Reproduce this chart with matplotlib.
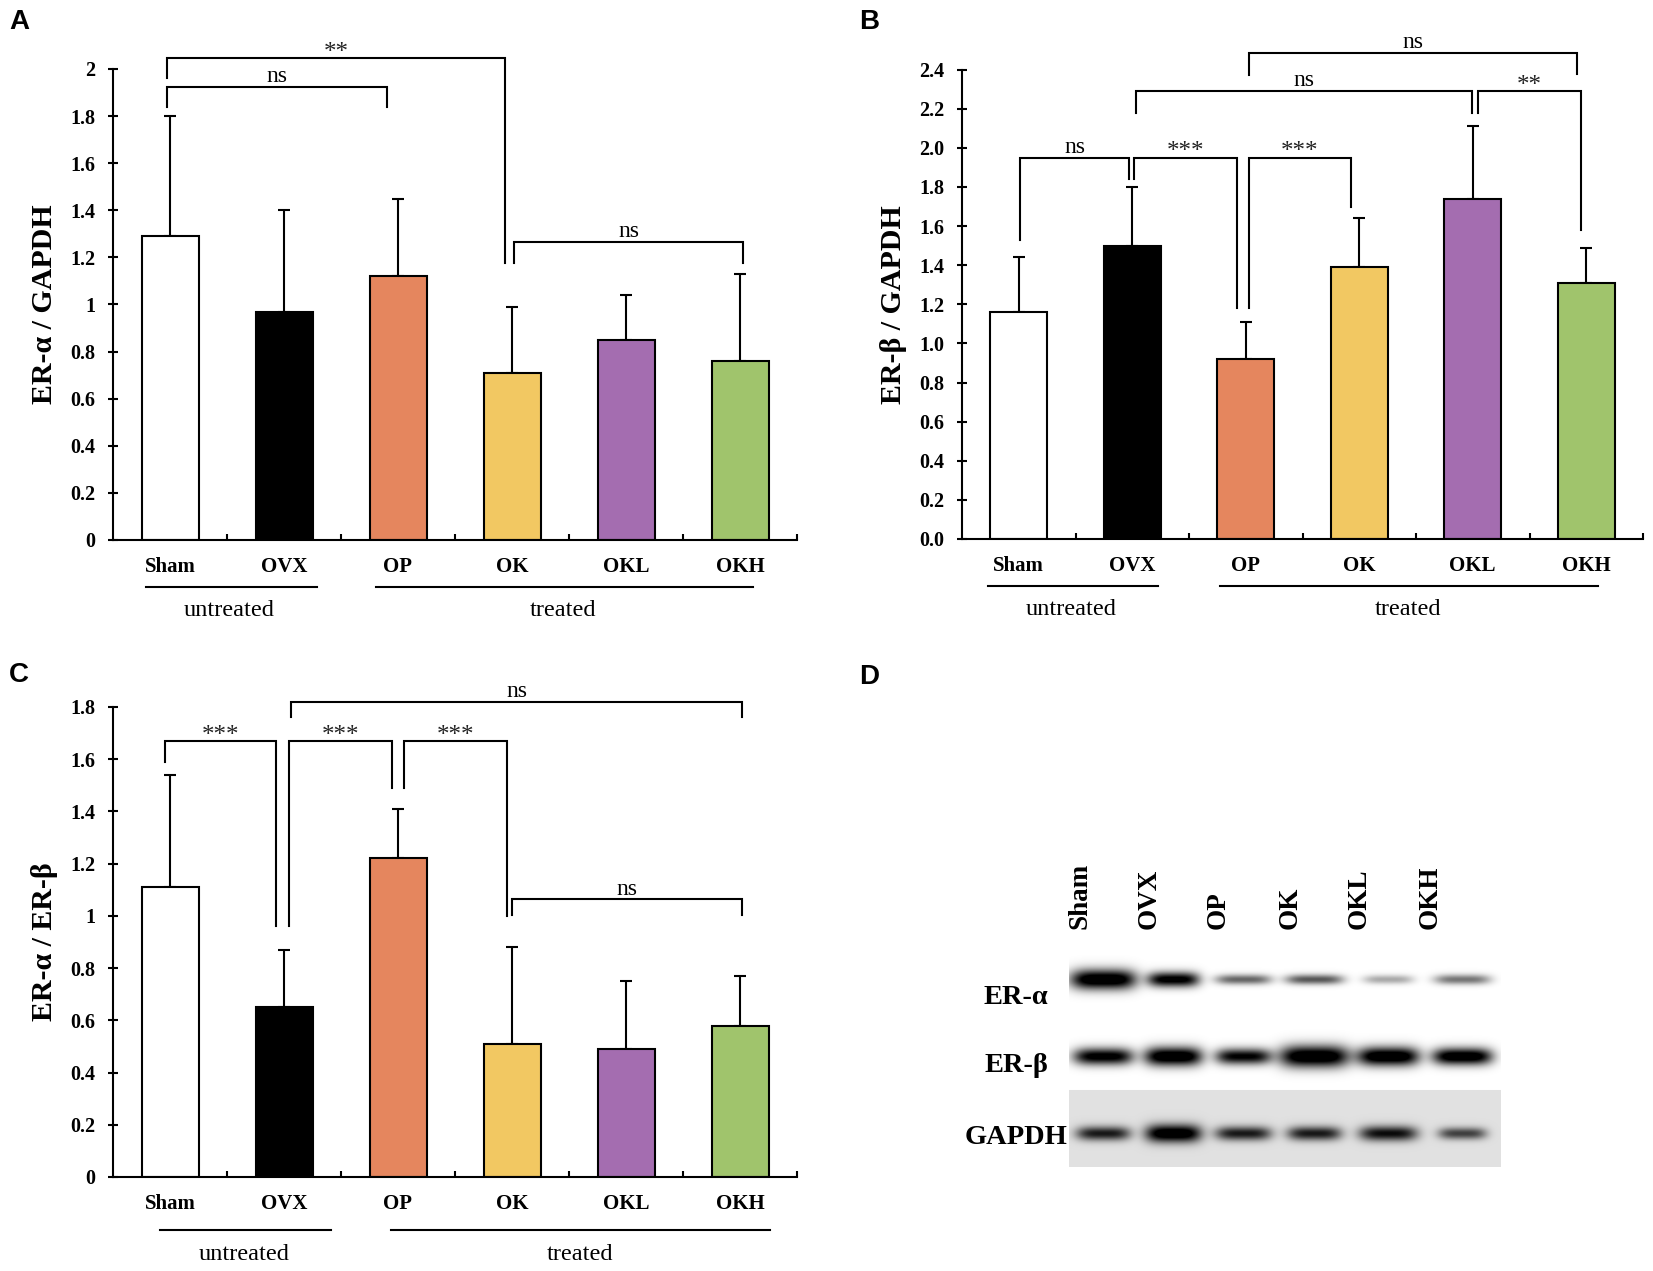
import numpy as np
import matplotlib
matplotlib.use('Agg')
import matplotlib.pyplot as plt
import matplotlib.transforms as mtransforms

# ---------------- data ----------------
groups = ['Sham', 'OVX', 'OP', 'OK', 'OKL', 'OKH']
bar_colors = ['#FFFFFF', '#000000', '#E5865E', '#F2C862', '#A46DB0', '#A0C46C']

era_mean = [1.29, 0.97, 1.12, 0.71, 0.85, 0.76]
era_err = [0.51, 0.43, 0.33, 0.28, 0.19, 0.37]

erb_mean = [1.16, 1.50, 0.92, 1.39, 1.74, 1.31]
erb_err = [0.28, 0.30, 0.19, 0.25, 0.37, 0.18]

ratio_mean = [1.11, 0.65, 1.22, 0.51, 0.49, 0.58]
ratio_err = [0.43, 0.22, 0.19, 0.37, 0.26, 0.19]

yticks_a = [0, 0.2, 0.4, 0.6, 0.8, 1.0, 1.2, 1.4, 1.6, 1.8, 2.0]
ytick_labels_a = ['0', '0.2', '0.4', '0.6', '0.8', '1', '1.2', '1.4', '1.6', '1.8', '2']
yticks_b = [0, 0.2, 0.4, 0.6, 0.8, 1.0, 1.2, 1.4, 1.6, 1.8, 2.0, 2.2, 2.4]
ytick_labels_b = ['0.0', '0.2', '0.4', '0.6', '0.8', '1.0', '1.2', '1.4', '1.6', '1.8', '2.0', '2.2', '2.4']
yticks_c = [0, 0.2, 0.4, 0.6, 0.8, 1.0, 1.2, 1.4, 1.6, 1.8]
ytick_labels_c = ['0', '0.2', '0.4', '0.6', '0.8', '1', '1.2', '1.4', '1.6', '1.8']

# significance brackets: (x_left, x_right, y_top, left_leg_bottom, right_leg_bottom, label)
brackets_a = [
    (-0.03, 1.90, 1.925, 1.84, 1.84, 'ns'),
    (-0.03, 2.94, 2.045, 1.96, 1.176, '**'),
    (3.02, 5.03, 1.265, 1.176, 1.176, 'ns'),
]
brackets_b = [
    (0.01, 0.975, 1.95, 1.53, 1.84, 'ns'),
    (1.015, 1.925, 1.95, 1.84, 1.18, '***'),
    (2.025, 2.925, 1.95, 1.18, 1.70, '***'),
    (1.03, 3.99, 2.29, 2.18, 2.18, 'ns'),
    (4.05, 4.95, 2.29, 2.18, 1.58, '**'),
    (2.025, 4.92, 2.485, 2.37, 2.375, 'ns'),
]
brackets_c = [
    (-0.04, 0.93, 1.67, 1.59, 0.96, '***'),
    (1.04, 1.95, 1.67, 0.96, 1.49, '***'),
    (2.05, 2.955, 1.67, 1.49, 1.00, '***'),
    (1.065, 5.02, 1.82, 1.76, 1.76, 'ns'),
    (3.00, 5.02, 1.063, 1.005, 1.005, 'ns'),
]

# group underlines: (x_start, x_end, text_x, label)
groups_a = [(-0.21, 1.29, 0.52, 'untreated'), (1.81, 5.11, 3.45, 'treated')]
groups_b = [(-0.27, 1.23, 0.46, 'untreated'), (1.77, 5.10, 3.43, 'treated')]
groups_c = [(-0.09, 1.41, 0.65, 'untreated'), (1.94, 5.26, 3.60, 'treated')]

# western blot band intensities (relative darkness)
blot_rows = ['ER-α', 'ER-β', 'GAPDH']
band_era = [1.00, 0.90, 0.50, 0.55, 0.28, 0.45]
band_erb = [0.90, 1.00, 0.85, 1.00, 1.00, 0.98]
band_gapdh = [0.75, 1.00, 0.75, 0.75, 0.80, 0.60]

# ---------------- style ----------------
W, H = 1653, 1271
SERIF = 'Liberation Serif'
LW = 1.5

fig = plt.figure(figsize=(W / 100, H / 100), dpi=100)
fig.patch.set_facecolor('white')


def px_axes(x0, y0, x1, y1):
    return fig.add_axes([x0 / W, 1 - y1 / H, (x1 - x0) / W, (y1 - y0) / H])


def bar_panel(ax, means, errs, ylim, yticks, yticklabels, ylabel, brackets, grp, line_y, text_y):
    x = np.arange(len(groups))
    ax.errorbar(x, means, yerr=[np.zeros(len(means)), errs], fmt='none', ecolor='black',
                elinewidth=LW, capsize=4.5, capthick=LW, zorder=1)
    ax.bar(x, means, width=0.5, color=bar_colors, edgecolor='black', linewidth=LW, zorder=2)
    ax.set_xlim(-0.5, 5.5)
    ax.set_ylim(*ylim)
    ax.set_yticks(yticks)
    ax.set_yticklabels(yticklabels, fontfamily=SERIF, fontweight='bold', fontsize=14.5)
    ax.set_xticks(x)
    ax.set_xticklabels(groups, fontfamily=SERIF, fontweight='bold', fontsize=15)
    ax.set_xticks(np.arange(0.5, 6, 1.0), minor=True)
    ax.tick_params(axis='x', which='major', length=0, pad=12)
    ax.tick_params(axis='x', which='minor', direction='in', length=4, width=LW)
    ax.tick_params(axis='y', direction='inout', length=7, width=LW, pad=9)
    for s in ['top', 'right']:
        ax.spines[s].set_visible(False)
    for s in ['left', 'bottom']:
        ax.spines[s].set_linewidth(LW)
    ax.set_ylabel(ylabel, fontfamily=SERIF, fontweight='bold', fontsize=21.5)
    ax.yaxis.set_label_coords(-0.081, 0.5)

    for (x1, x2, y, b1, b2, lab) in brackets:
        ax.plot([x1, x1, x2, x2], [b1, y, y, b2], color='black', lw=LW, clip_on=False,
                solid_joinstyle='miter', zorder=3)
        if lab == 'ns':
            ax.annotate(lab, xy=((x1 + x2) / 2, y), xytext=(0, 3.5), textcoords='offset points',
                        ha='center', va='baseline', fontfamily=SERIF, fontsize=17,
                        annotation_clip=False)
        else:
            ax.annotate(lab, xy=((x1 + x2) / 2, y), xytext=(0, -0.5), textcoords='offset points',
                        ha='center', va='baseline', fontfamily=SERIF, fontsize=18,
                        color='#222222', annotation_clip=False)

    trans = mtransforms.blended_transform_factory(ax.transData, ax.transAxes)
    for (xs, xe, tx, lab) in grp:
        ax.plot([xs, xe], [line_y, line_y], color='black', lw=LW, transform=trans, clip_on=False)
        ax.text(tx, text_y, lab, transform=trans, ha='center', va='center',
                fontfamily=SERIF, fontsize=17.5)


ax_a = px_axes(113, 69, 797, 540)
bar_panel(ax_a, era_mean, era_err, (0, 2.0), yticks_a, ytick_labels_a, 'ER-α / GAPDH',
          brackets_a, groups_a, -0.10, -0.149)

ax_b = px_axes(962, 69.6, 1643, 539)
bar_panel(ax_b, erb_mean, erb_err, (0, 2.4), yticks_b, ytick_labels_b, 'ER-β / GAPDH',
          brackets_b, groups_b, -0.10, -0.151)

ax_c = px_axes(113, 707, 797, 1177)
bar_panel(ax_c, ratio_mean, ratio_err, (0, 1.8), yticks_c, ytick_labels_c, 'ER-α / ER-β',
          brackets_c, groups_c, -0.113, -0.164)

# ---------------- panel D: western blot ----------------
bx0, bx1, by0, by1 = 1069, 1501, 905, 1167
ax_d = px_axes(bx0, by0, bx1, by1)
yy, xx = np.mgrid[by0:by1, bx0:bx1].astype(float)
bg = np.ones_like(xx)
bg[yy >= 1090] = 0.88
dark = np.zeros_like(xx)

lane_x = [1103, 1173, 1243, 1314, 1388, 1462]
row_specs = [
    (979, band_era, [33, 26, 28, 29, 25, 28], [10, 7.5, 5, 5, 4.5, 5]),
    (1056, band_erb, [30, 29, 28, 35, 31, 30], [8.5, 9.5, 8, 11, 9.5, 8.5]),
    (1133, band_gapdh, [27, 28, 28, 27, 29, 24], [7, 9, 7, 7, 7.5, 6]),
]
for cy, inten, hws, hss in row_specs:
    for lx, I, hw, hs in zip(lane_x, inten, hws, hss):
        shape = np.exp(-(np.abs(xx - lx) / hw) ** 4) * np.exp(-((yy - cy) / hs) ** 2)
        dark += 1.2 * I * shape
dark = np.clip(dark, 0, 1)
img = bg * (1 - dark)
ax_d.imshow(img, cmap='gray', vmin=0, vmax=1, extent=(bx0, bx1, by1, by0),
            aspect='auto', interpolation='bilinear')
ax_d.set_xlim(bx0, bx1)
ax_d.set_ylim(by1, by0)
ax_d.axis('off')

lane_label_x = [1080, 1149, 1218, 1290, 1359, 1430]
for lx, g in zip(lane_label_x, groups):
    ax_d.text(lx, 929, g, rotation=90, ha='center', va='bottom', fontfamily=SERIF,
              fontweight='bold', fontsize=19.5, clip_on=False)
for (lab, lx, ly) in zip(blot_rows, [1048, 1048, 1067], [998, 1066, 1137]):
    ax_d.text(lx, ly, lab, ha='right', va='center', fontfamily=SERIF, fontweight='bold',
              fontsize=20.5, clip_on=False)

# ---------------- panel letters ----------------
for lab, px, py in [('A', 9, 9), ('B', 859, 9), ('C', 9, 662), ('D', 859, 664)]:
    fig.text(px / W, 1 - py / H, lab, fontfamily='Liberation Sans', fontweight='bold',
             fontsize=20, ha='left', va='top')

fig.savefig('out.png', dpi=100, facecolor='white')
